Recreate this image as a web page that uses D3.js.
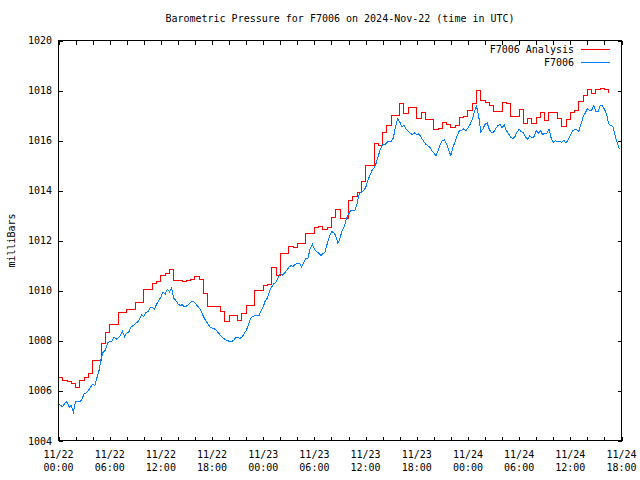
<!DOCTYPE html>
<html><head><meta charset="utf-8">
<script src="https://cdn.jsdelivr.net/npm/d3@7"></script>
<style>body{margin:0;background:#fff} svg text{font-family:"DejaVu Sans Mono","Liberation Mono",monospace;font-size:10px;fill:#000}</style>
</head><body><svg id="c" width="640" height="480"></svg>
<script>
const title = "Barometric Pressure for F7006 on 2024-Nov-22 (time in UTC)";
const yLabel = "milliBars";
const seriesNames = ["F7006 Analysis", "F7006"];
const seriesColors = ["#ff0000", "#0080ff"];
const startTime = "2024-11-22T00:00:00Z";
const endTime = "2024-11-24T18:00:00Z";
const yTicks = [1004, 1006, 1008, 1010, 1012, 1014, 1016, 1018, 1020];
const xLabelHours = [0, 6, 12, 18, 24, 30, 36, 42, 48, 54, 60, 66];

// Analysis (red), one value every 30 minutes from startTime
const analysisStepMinutes = 30;
const analysisValues = [
 1006.51,1006.4,1006.35,1006.27,1006.12,1006.4,1006.52,1006.67,1007.2,1007.2,
 1007.87,1008.33,1008.64,1008.64,1009.11,1009.11,1009.24,1009.24,1009.53,1009.53,
 1010.03,1010.03,1010.27,1010.36,1010.6,1010.7,1010.83,1010.4,1010.4,1010.35,
 1010.4,1010.43,1010.56,1010.45,1009.87,1009.36,1009.36,1009.36,1009.15,1008.77,
 1008.99,1008.99,1008.8,1009.09,1009.4,1009.4,1010.0,1010.0,1010.2,1010.24,
 1010.93,1010.6,1011.47,1011.47,1011.78,1011.73,1011.87,1011.87,1012.27,1012.27,
 1012.53,1012.55,1012.45,1012.53,1012.93,1013.23,1012.89,1012.89,1013.6,1013.76,
 1013.93,1014.36,1015.0,1015.0,1015.87,1015.8,1016.31,1016.6,1017.0,1017.0,
 1017.5,1017.07,1017.31,1017.31,1016.9,1017.13,1016.84,1016.84,1016.45,1016.5,
 1016.73,1016.65,1016.51,1016.6,1016.91,1016.95,1017.2,1017.5,1018.0,1017.6,
 1017.53,1017.4,1017.17,1017.17,1017.53,1017.5,1016.97,1016.97,1017.23,1016.69,
 1016.89,1016.69,1016.93,1017.13,1016.8,1017.13,1017.13,1016.9,1016.56,1016.83,
 1017.13,1017.2,1017.56,1017.8,1018.03,1017.9,1018.04,1018.08,1018.05,1017.9
];

// Observations (blue), one value every 15 minutes from startTime
const obsStepMinutes = 15;
const obsValues = [
 1005.47,1005.4,1005.35,1005.5,1005.55,1005.33,1005.4,1005.15,1005.57,1005.57,
 1005.55,1005.65,1005.87,1005.9,1006.0,1006.13,1006.25,1006.2,1006.5,1006.8,
 1007.3,1007.55,1007.6,1007.9,1007.95,1007.95,1008.13,1008.05,1008.1,1008.2,
 1008.37,1008.15,1008.3,1008.35,1008.53,1008.6,1008.67,1008.73,1008.85,1009.03,
 1008.95,1009.13,1009.15,1009.33,1009.33,1009.25,1009.45,1009.6,1009.73,1009.95,
 1009.85,1010.05,1009.95,1010.1,1009.7,1009.6,1009.47,1009.4,1009.43,1009.35,
 1009.38,1009.43,1009.53,1009.57,1009.5,1009.4,1009.3,1009.15,1008.95,1008.8,
 1008.67,1008.55,1008.5,1008.47,1008.4,1008.3,1008.2,1008.12,1008.05,1008.0,
 1007.97,1007.95,1008.0,1008.1,1008.13,1008.08,1008.13,1008.27,1008.4,1008.6,
 1008.87,1008.95,1009.0,1009.0,1008.98,1009.2,1009.35,1009.6,1009.7,1010.0,
 1010.15,1010.27,1010.33,1010.5,1010.67,1010.62,1010.7,1010.8,1010.93,1011.0,
 1010.95,1011.05,1011.08,1011.08,1010.95,1011.13,1011.3,1011.3,1011.68,1011.85,
 1011.65,1011.55,1011.5,1011.4,1011.47,1011.55,1011.87,1012.15,1012.35,1012.33,
 1012.2,1011.87,1012.1,1012.4,1012.55,1012.87,1013.05,1013.2,1013.2,1013.2,
 1013.47,1013.87,1013.93,1014.0,1014.1,1014.4,1014.6,1014.8,1014.9,1015.1,
 1015.4,1015.67,1015.85,1015.82,1015.93,1015.97,1015.95,1016.1,1016.53,1016.87,
 1016.75,1016.55,1016.62,1016.45,1016.38,1016.27,1016.25,1016.3,1016.22,1016.27,
 1016.13,1016.0,1015.87,1015.8,1015.75,1015.6,1015.52,1015.38,1015.6,1015.83,
 1016.0,1016.02,1015.86,1015.6,1015.4,1015.75,1015.95,1016.2,1016.4,1016.4,
 1016.47,1016.38,1016.5,1016.65,1016.85,1017.13,1017.37,1017.0,1016.35,1016.45,
 1016.65,1016.7,1016.45,1016.3,1016.33,1016.47,1016.6,1016.65,1016.5,1016.63,
 1016.4,1016.27,1016.13,1016.07,1016.15,1016.33,1016.45,1016.35,1016.33,1016.13,
 1016.05,1016.2,1016.1,1016.15,1016.4,1016.28,1016.4,1016.23,1016.3,1016.27,
 1016.47,1016.1,1015.93,1016.0,1015.95,1015.95,1015.93,1016.0,1015.9,1016.03,
 1016.2,1016.37,1016.45,1016.43,1016.37,1016.65,1016.95,1017.1,1017.27,1017.2,
 1017.2,1017.4,1017.15,1017.15,1017.4,1017.4,1017.25,1017.05,1016.67,1016.6,
 1016.55,1016.2,1015.9,1015.65
];

const t0 = new Date(startTime), t1 = new Date(endTime);
const analysis = analysisValues.map((v, i) => ({t: d3.utcMinute.offset(t0, i * analysisStepMinutes), v}));
const obs = obsValues.map((v, i) => ({t: d3.utcMinute.offset(t0, i * obsStepMinutes), v}));

const L = 58.5, R = 621.5, T = 40.5, B = 440.5;
const x = d3.scaleUtc().domain([t0, t1]).range([L, R]);
const y = d3.scaleLinear().domain([1004, 1020]).range([B, T]);
const svg = d3.select("#c");

// title and axis label
svg.append("text").attr("x", (L + R) / 2).attr("y", 19).attr("text-anchor", "middle")
  .attr("dominant-baseline", "middle").text(title);
svg.append("text").attr("transform", `translate(12,${(T + B) / 2}) rotate(-90)`)
  .attr("text-anchor", "middle").attr("dominant-baseline", "middle").text(yLabel);

// axes via d3 axis generators (inward ticks on all four sides)
const minorTimes = d3.utcHour.every(2).range(t0, d3.utcHour.offset(t1, 1));
const g = svg.append("g");
g.append("g").attr("transform", `translate(0,${B})`)
  .call(d3.axisTop(x).tickValues(minorTimes).tickSize(4).tickFormat(""));
g.append("g").attr("transform", `translate(0,${T})`)
  .call(d3.axisBottom(x).tickValues(minorTimes).tickSize(4).tickFormat(""));
g.append("g").attr("transform", `translate(${L},0)`)
  .call(d3.axisRight(y).tickValues(yTicks).tickSize(4).tickFormat(""));
g.append("g").attr("transform", `translate(${R},0)`)
  .call(d3.axisLeft(y).tickValues(yTicks).tickSize(4).tickFormat(""));
g.selectAll(".domain").remove();
g.selectAll("line").attr("stroke", "#000").attr("shape-rendering", "crispEdges");

// y labels
svg.append("g").selectAll("text").data(yTicks).join("text")
  .attr("x", 52).attr("y", d => y(d) + (d === 1004 ? 1 : 0)).attr("text-anchor", "end")
  .attr("dominant-baseline", "middle").text(d => d);

// x labels (two lines)
const fmt1 = d3.utcFormat("%m/%d"), fmt2 = d3.utcFormat("%H:%M");
const xl = svg.append("g").selectAll("g").data(xLabelHours.map(h => d3.utcHour.offset(t0, h))).join("g");
xl.append("text").attr("x", d => x(d)).attr("y", 455).attr("text-anchor", "middle")
  .attr("dominant-baseline", "middle").text(d => fmt1(d));
xl.append("text").attr("x", d => x(d)).attr("y", 467.5).attr("text-anchor", "middle")
  .attr("dominant-baseline", "middle").text(d => fmt2(d));

// lines (aliased, like the original raster output)
const lineStep = d3.line().x(d => x(d.t)).y(d => y(d.v)).curve(d3.curveStepAfter);
const lineObs = d3.line().x(d => x(d.t)).y(d => y(d.v));
svg.append("path").datum(analysis).attr("d", lineStep).attr("fill", "none")
  .attr("stroke", seriesColors[0]).attr("stroke-width", 1).attr("shape-rendering", "crispEdges");
svg.append("path").datum(obs).attr("d", lineObs).attr("fill", "none")
  .attr("stroke", seriesColors[1]).attr("stroke-width", 1).attr("shape-rendering", "crispEdges");

// frame
svg.append("rect").attr("x", L).attr("y", T).attr("width", R - L).attr("height", B - T)
  .attr("fill", "none").attr("stroke", "#000").attr("shape-rendering", "crispEdges");

// legend
const leg = svg.append("g").selectAll("g").data(seriesNames).join("g");
leg.append("text").attr("x", 574).attr("y", (d, i) => 49.5 + i * 13).attr("text-anchor", "end")
  .attr("dominant-baseline", "middle").text(d => d);
leg.append("line").attr("x1", 581).attr("x2", 610).attr("y1", (d, i) => 49.5 + i * 13)
  .attr("y2", (d, i) => 49.5 + i * 13).attr("stroke", (d, i) => seriesColors[i])
  .attr("stroke-width", 1).attr("shape-rendering", "crispEdges");
</script></body></html>
